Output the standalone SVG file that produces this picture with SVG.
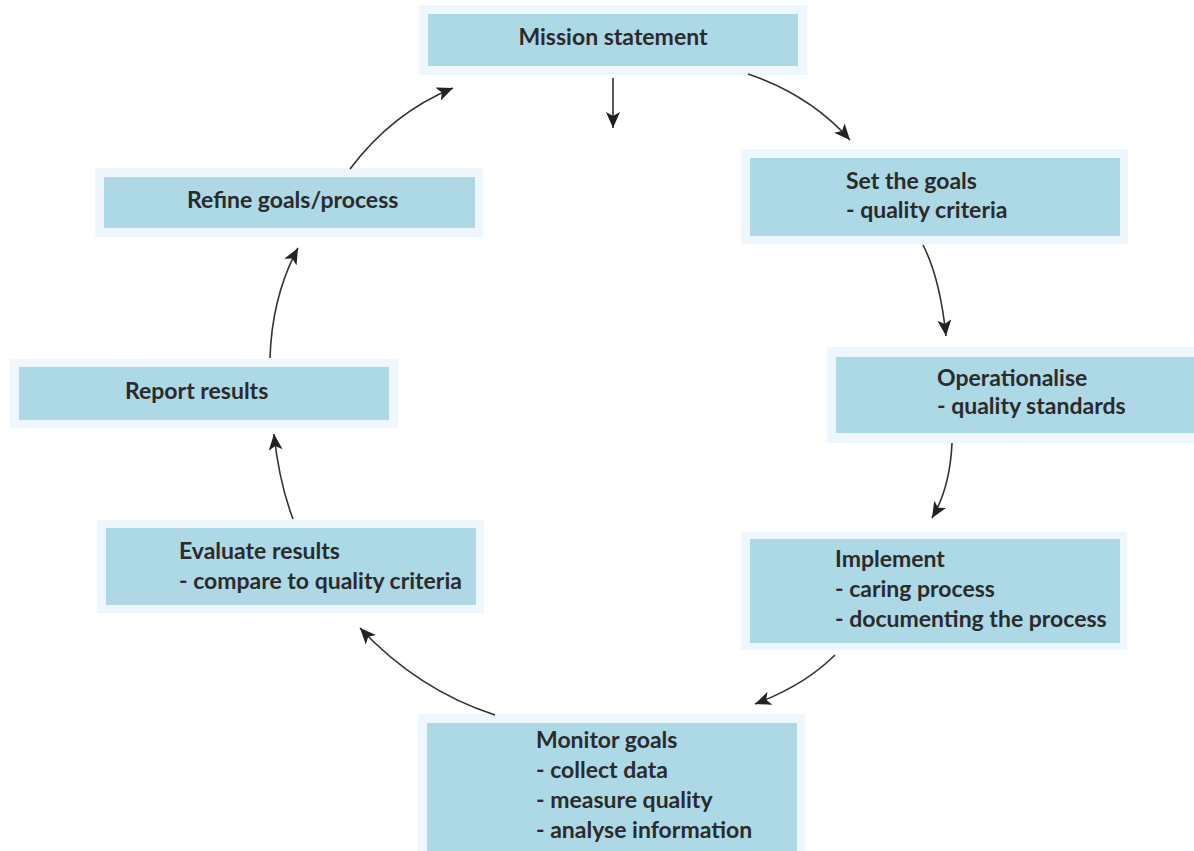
<svg xmlns="http://www.w3.org/2000/svg" width="1194" height="851" viewBox="0 0 1194 851">
<defs>
<marker id="ah" markerUnits="userSpaceOnUse" markerWidth="18" markerHeight="14" refX="16" refY="7" orient="auto">
<path d="M0,0 L16,7 L0,14 L4,7 z" fill="#222"/>
</marker>
<style>
.halo{fill:#eef7fd}
.box{fill:#add8e6}
text{font-family:Lato,"Open Sans","Liberation Sans",sans-serif;font-weight:bold;font-size:23px;fill:#2b2b2b}
.c{fill:none;stroke:#333;stroke-width:1.6;marker-end:url(#ah)}
</style>
</defs>
<rect width="1194" height="851" fill="#fff"/>
<g id="mission">
<rect class="halo" x="419" y="5" width="388" height="70"/>
<rect class="box" x="428" y="14" width="370" height="52"/>
<text x="613" y="45" text-anchor="middle">Mission statement</text>
</g>
<g id="setgoals">
<rect class="halo" x="741" y="149" width="387" height="95"/>
<rect class="box" x="750" y="158" width="370" height="78"/>
<text x="846" y="189">Set the goals</text>
<text x="846" y="218">- quality criteria</text>
</g>
<g id="operationalise">
<rect class="halo" x="827" y="347" width="367" height="96"/>
<rect class="box" x="836" y="357" width="358" height="76"/>
<text x="937" y="386">Operationalise</text>
<text x="937" y="414">- quality standards</text>
</g>
<g id="implement">
<rect class="halo" x="741" y="532" width="386" height="118"/>
<rect class="box" x="750" y="539" width="370" height="104"/>
<text x="835" y="567">Implement</text>
<text x="835" y="597">- caring process</text>
<text x="835" y="627">- documenting the process</text>
</g>
<g id="monitor">
<rect class="halo" x="418" y="714" width="387" height="137"/>
<rect class="box" x="427" y="723" width="370" height="128"/>
<text x="536" y="748">Monitor goals</text>
<text x="536" y="778">- collect data</text>
<text x="536" y="808">- measure quality</text>
<text x="536" y="838">- analyse information</text>
</g>
<g id="evaluate">
<rect class="halo" x="97" y="520" width="387" height="93"/>
<rect class="box" x="106" y="528" width="370" height="77"/>
<text x="179" y="559">Evaluate results</text>
<text x="179" y="589">- compare to quality criteria</text>
</g>
<g id="report">
<rect class="halo" x="10" y="359" width="388" height="69"/>
<rect class="box" x="19" y="367" width="370" height="53"/>
<text x="125" y="399">Report results</text>
</g>
<g id="refine">
<rect class="halo" x="95" y="168" width="388" height="69"/>
<rect class="box" x="104" y="177" width="371" height="51"/>
<text x="187" y="208">Refine goals/process</text>
</g>
<g id="connectors">
<path class="c" d="M613,78 L613,128"/>
<path class="c" d="M748,74 Q810,95 850,140"/>
<path class="c" d="M923,245 Q940,278 946,336"/>
<path class="c" d="M952,443 Q950,488 932,518"/>
<path class="c" d="M835,655 Q805,685 755,704"/>
<path class="c" d="M495,715 Q418,690 360,628"/>
<path class="c" d="M293,519 Q279,482 274,434"/>
<path class="c" d="M270,358 Q272,296 298,248"/>
<path class="c" d="M350,169 Q392,113 453,88"/>
</g>
</svg>
